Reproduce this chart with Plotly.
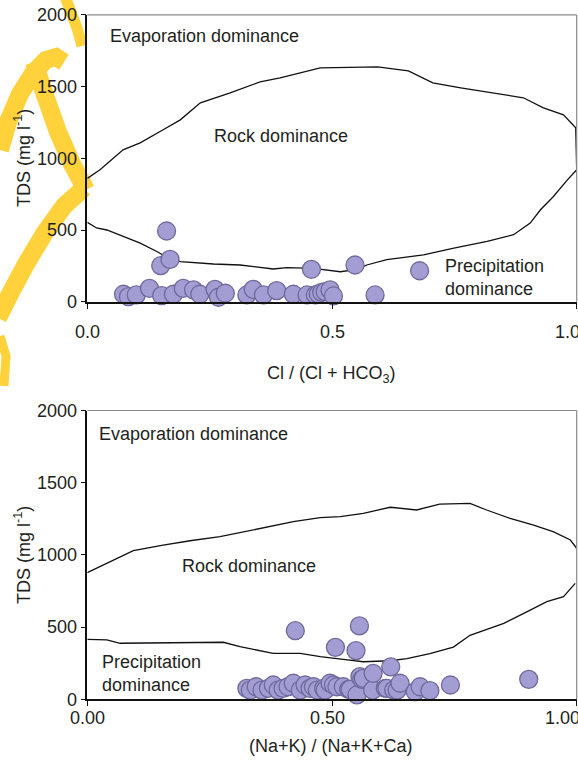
import plotly.graph_objects as go

W, H = 578, 762

# ---------------- data: top panel  Cl/(Cl+HCO3) ----------------
cl_ratio = [0.074, 0.084, 0.100, 0.127, 0.150, 0.152, 0.162, 0.169, 0.176, 0.196,
            0.217, 0.230, 0.261, 0.268, 0.282, 0.326, 0.339, 0.360, 0.387, 0.421,
            0.449, 0.458, 0.466, 0.472, 0.479, 0.486, 0.496, 0.503, 0.547, 0.588, 0.679]
tds_top = [52, 35, 47, 93, 251, 42, 493, 295, 52, 93,
           82, 52, 86, 31, 59, 47, 86, 47, 77, 52,
           47, 226, 47, 55, 65, 70, 82, 40, 256, 47, 216]

# Gibbs boundary (upper limb, left -> right, then down the right edge)
gibbs_cl_upper_x = [0, 0.026, 0.073, 0.108, 0.155, 0.19, 0.231, 0.292, 0.353, 0.394, 0.476,
                    0.593, 0.656, 0.706, 0.763, 0.83, 0.891, 0.932, 0.973, 0.998, 1.0]
gibbs_cl_upper_y = [860, 920, 1059, 1108, 1199, 1268, 1387, 1457, 1533, 1561, 1631,
                    1638, 1610, 1526, 1491, 1457, 1422, 1352, 1303, 1213, 920]
# lower limb, right -> left
gibbs_cl_lower_x = [0.981, 0.952, 0.926, 0.905, 0.871, 0.817, 0.749, 0.687, 0.612, 0.571,
                    0.552, 0.517, 0.462, 0.408, 0.38, 0.312, 0.258, 0.19, 0.166, 0.142,
                    0.108, 0.074, 0.04, 0.019, 0]
gibbs_cl_lower_y = [850, 732, 641, 548, 467, 420, 373, 326, 293, 256,
                    225, 209, 233, 237, 228, 256, 263, 279, 303, 350,
                    409, 455, 500, 514, 553]

# ---------------- data: bottom panel  (Na+K)/(Na+K+Ca) ----------------
na_ratio = [0.326, 0.333, 0.345, 0.357, 0.370, 0.380, 0.390, 0.400, 0.410, 0.421,
            0.425, 0.435, 0.445, 0.455, 0.462, 0.470, 0.483, 0.486, 0.496, 0.503,
            0.507, 0.510, 0.523, 0.534, 0.537, 0.549, 0.551, 0.556, 0.557, 0.561,
            0.564, 0.583, 0.584, 0.609, 0.612, 0.620, 0.626, 0.633, 0.639, 0.670,
            0.680, 0.700, 0.742, 0.902]
tds_bot = [76, 64, 87, 64, 76, 99, 64, 76, 87, 111,
           475, 64, 99, 76, 87, 64, 76, 64, 111, 99,
           360, 87, 87, 69, 69, 337, 30, 508, 157, 138,
           145, 64, 180, 76, 76, 225, 64, 64, 111, 53,
           87, 60, 99, 138]

gibbs_na_upper_x = [0, 0.019, 0.053, 0.094, 0.155, 0.21, 0.271, 0.353, 0.421, 0.476, 0.517,
                    0.564, 0.619, 0.673, 0.72, 0.782, 0.816, 0.864, 0.912, 0.953, 0.987, 1.0]
gibbs_na_upper_y = [877, 907, 964, 1029, 1068, 1098, 1126, 1184, 1230, 1258, 1265,
                    1288, 1330, 1311, 1352, 1357, 1311, 1253, 1207, 1160, 1103, 1046]
gibbs_na_lower_x = [0, 0.04, 0.067, 0.19, 0.278, 0.312, 0.38, 0.435, 0.476, 0.523, 0.564,
                    0.619, 0.653, 0.70, 0.748, 0.782, 0.851, 0.905, 0.939, 0.973, 0.997]
gibbs_na_lower_y = [415, 411, 388, 395, 395, 364, 318, 318, 295, 277, 260,
                    267, 282, 316, 362, 443, 526, 618, 676, 711, 803]

y_ticks = [0, 500, 1000, 1500, 2000]
x_ticks_top = [0.0, 0.5, 1.0]
x_ticklabels_top = ["0.0", "0.5", "1.0"]
x_ticks_bot = [0.0, 0.5, 1.0]
x_ticklabels_bot = ["0.00", "0.50", "1.00"]

# ---------------- style ----------------
FONT = "Liberation Sans, Arial, sans-serif"
TXT = "#231f20"
PT_FILL = "#a29dd2"
PT_EDGE = "#6f6a9c"
YELLOW = "#ffd23c"


def px(x):
    return x / W


def py(y):
    return 1 - y / H


XDOM = [px(87.3), px(576.7)]
TOP_DOM = [py(301.7), py(14.9)]
BOT_DOM = [py(699.3), py(410.5)]

fig = go.Figure()

# boundaries
fig.add_trace(go.Scatter(x=gibbs_cl_upper_x + gibbs_cl_lower_x,
                         y=gibbs_cl_upper_y + gibbs_cl_lower_y,
                         mode="lines", line=dict(color="#111", width=1.3),
                         xaxis="x", yaxis="y", hoverinfo="skip"))
fig.add_trace(go.Scatter(x=gibbs_na_upper_x + [None] + gibbs_na_lower_x,
                         y=gibbs_na_upper_y + [None] + gibbs_na_lower_y,
                         mode="lines", line=dict(color="#111", width=1.3),
                         connectgaps=False,
                         xaxis="x2", yaxis="y2", hoverinfo="skip"))
# samples
marker = dict(size=18, color=PT_FILL, line=dict(color=PT_EDGE, width=1.3))
fig.add_trace(go.Scatter(x=cl_ratio, y=tds_top, mode="markers", marker=marker,
                         xaxis="x", yaxis="y", cliponaxis=False))
fig.add_trace(go.Scatter(x=na_ratio, y=tds_bot, mode="markers", marker=marker,
                         xaxis="x2", yaxis="y2", cliponaxis=False))

axis_common = dict(showgrid=False, zeroline=False, showline=True, linecolor="#111",
                   ticks="outside", tickcolor="#111", ticklen=5, tickwidth=1.3,
                   automargin=False,
                   tickfont=dict(family=FONT, size=18, color=TXT))

fig.update_layout(
    template="none",
    width=W, height=H, margin=dict(l=0, r=0, t=0, b=0, pad=0), autosize=False,
    paper_bgcolor="white", plot_bgcolor="rgba(0,0,0,0)",
    showlegend=False,
    xaxis=dict(domain=XDOM, range=[0, 1], anchor="y", tickvals=x_ticks_top,
               showticklabels=False, linewidth=2.2, **axis_common),
    yaxis=dict(domain=TOP_DOM, range=[0, 2000], anchor="x", tickvals=y_ticks,
               linewidth=1.5, **axis_common),
    xaxis2=dict(domain=XDOM, range=[0, 1], anchor="y2", tickvals=x_ticks_bot,
                showticklabels=False, linewidth=2.0, **axis_common),
    yaxis2=dict(domain=BOT_DOM, range=[0, 2000], anchor="x2", tickvals=y_ticks,
                linewidth=1.5, **axis_common),
)

# grey top / right frame
for xr, yr in (("x domain", "y domain"), ("x2 domain", "y2 domain")):
    fig.add_shape(type="line", xref=xr, yref=yr, x0=0, x1=1, y0=1, y1=1,
                  line=dict(color="#8a8a8a", width=1.2))
    fig.add_shape(type="line", xref=xr, yref=yr, x0=1, x1=1, y0=0, y1=1,
                  line=dict(color="#8a8a8a", width=1.2))

# yellow watermark strokes (page decoration, pixel positions)
strokes = [
    ([(64, -6), (71, 12), (77, 28), (82, 46)], 11),
    ([(0, 150), (8, 122), (20, 94), (34, 72), (46, 60), (56, 57), (64, 62)], 18),
    ([(34, 62), (46, 98), (58, 132), (72, 164), (86, 190)], 18),
    ([(84, 188), (64, 206), (44, 234), (26, 264), (10, 294), (-2, 318)], 18),
    ([(0, 336), (6, 356), (4, 386)], 9),
]
for pts, wd in strokes:
    path = "M " + " L ".join(f"{px(a):.4f},{py(b):.4f}" for a, b in pts)
    fig.add_shape(type="path", xref="paper", yref="paper", path=path, layer="below",
                  line=dict(color=YELLOW, width=wd))

ann = []
f18 = dict(family=FONT, size=18, color=TXT)

# x tick labels
for v, t in zip(x_ticks_top, x_ticklabels_top):
    ann.append(dict(x=v, xref="x", y=py(332), yref="paper", text=t, showarrow=False,
                    font=f18, xanchor="center", yanchor="middle",
                    xshift=-9 if v == 1.0 else 0))
for v, t in zip(x_ticks_bot, x_ticklabels_bot):
    ann.append(dict(x=v, xref="x2", y=py(718), yref="paper", text=t, showarrow=False,
                    font=f18, xanchor="center", yanchor="middle",
                    xshift=-14 if v == 1.0 else (-5 if v == 0.5 else 0)))

# axis titles
ann.append(dict(x=px(331), y=py(374), xref="paper", yref="paper",
                text="Cl / (Cl + HCO<sub>3</sub>)", showarrow=False, font=f18,
                xanchor="center", yanchor="middle"))
ann.append(dict(x=px(331), y=py(746), xref="paper", yref="paper",
                text="(Na+K) / (Na+K+Ca)", showarrow=False, font=f18,
                xanchor="center", yanchor="middle"))
for yc in (158, 555):
    ann.append(dict(x=px(22), y=py(yc), xref="paper", yref="paper", textangle=-90,
                    text="TDS (mg l<sup>-1</sup>)", showarrow=False, font=f18,
                    xanchor="center", yanchor="middle"))

# region labels
ann.append(dict(x=0.042, y=1855, xref="x", yref="y", text="Evaporation dominance",
                showarrow=False, font=f18, xanchor="left", yanchor="middle"))
ann.append(dict(x=0.396, y=1157, xref="x", yref="y", text="Rock dominance",
                showarrow=False, font=f18, xanchor="center", yanchor="middle"))
ann.append(dict(x=0.727, y=167, xref="x", yref="y", text="Precipitation<br>dominance",
                showarrow=False, font=f18, xanchor="left", yanchor="middle", align="left"))
ann.append(dict(x=0.020, y=1837, xref="x2", yref="y2", text="Evaporation dominance",
                showarrow=False, font=f18, xanchor="left", yanchor="middle"))
ann.append(dict(x=0.331, y=923, xref="x2", yref="y2", text="Rock dominance",
                showarrow=False, font=f18, xanchor="center", yanchor="middle"))
ann.append(dict(x=0.026, y=182, xref="x2", yref="y2", text="Precipitation<br>dominance",
                showarrow=False, font=f18, xanchor="left", yanchor="middle", align="left"))

fig.update_layout(annotations=ann)
fig.write_html("out.html")
